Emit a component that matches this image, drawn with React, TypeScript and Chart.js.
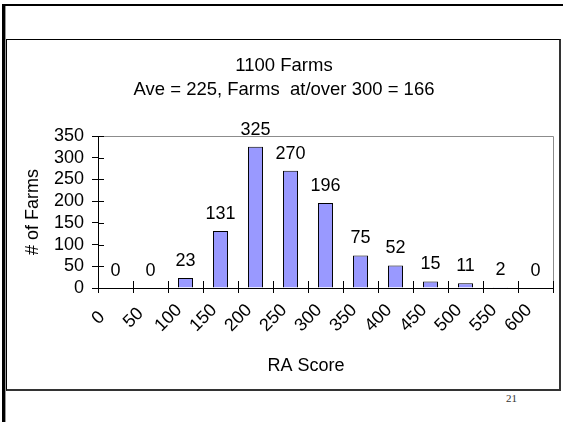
import React, { useEffect, useRef } from 'react';
import { Chart, registerables } from 'chart.js';

Chart.register(...registerables);

const categories = ['0', '50', '100', '150', '200', '250', '300', '350', '400', '450', '500', '550', '600'];
const farmCounts = [0, 0, 23, 131, 325, 270, 196, 75, 52, 15, 11, 2, 0];
const yMin = 0;
const yMax = 350;
const yStep = 50;
const titleLines = ['1100 Farms', 'Ave = 225, Farms  at/over 300 = 166'];
const xTitle = 'RA Score';
const yTitle = '# of Farms';
const pageNumber = '21';

const FONT = "'Liberation Sans', Arial, Helvetica, sans-serif";
const W = 563;
const H = 422;

const decorPlugin = {
  id: 'decor',
  beforeDraw(chart: any) {
    const { ctx, chartArea } = chart;
    ctx.save();
    ctx.strokeStyle = '#8c8c8c';
    ctx.lineWidth = 1;
    ctx.beginPath();
    ctx.moveTo(Math.round(chartArea.left) + 0.5, Math.round(chartArea.top) + 0.5);
    ctx.lineTo(Math.round(chartArea.right) + 0.5, Math.round(chartArea.top) + 0.5);
    ctx.lineTo(Math.round(chartArea.right) + 0.5, Math.round(chartArea.bottom) + 0.5);
    ctx.stroke();
    ctx.restore();
  },
  afterDraw(chart: any) {
    const { ctx, chartArea } = chart;
    const xScale = chart.scales.x;
    const yScale = chart.scales.y;
    ctx.save();
    // inward halves of the crossing tick marks
    ctx.strokeStyle = '#000';
    ctx.lineWidth = 1;
    const n = categories.length;
    const step = (xScale.right - xScale.left) / n;
    ctx.beginPath();
    for (let i = 0; i <= n; i++) {
      const x = Math.round(xScale.left + i * step) + 0.5;
      ctx.moveTo(x, chartArea.bottom);
      ctx.lineTo(x, chartArea.bottom - 7);
    }
    yScale.ticks.forEach((_t: any, i: number) => {
      const y = Math.round(yScale.getPixelForTick(i)) + 0.5;
      ctx.moveTo(chartArea.left, y);
      ctx.lineTo(chartArea.left + 6, y);
    });
    ctx.stroke();

    ctx.fillStyle = '#000';
    ctx.font = `18px ${FONT}`;
    ctx.textAlign = 'center';
    ctx.textBaseline = 'middle';

    // data labels
    const meta = chart.getDatasetMeta(0);
    meta.data.forEach((bar: any, i: number) => {
      ctx.fillText(String(farmCounts[i]), bar.x, bar.y - 17);
    });

    // rotated category labels, centred like the original
    categories.forEach((lab, i) => {
      const cx = xScale.getPixelForValue(i) - 17;
      ctx.save();
      ctx.translate(cx, chartArea.bottom + 30);
      ctx.rotate(-Math.PI / 4);
      ctx.fillText(lab, 0, 0);
      ctx.restore();
    });

    // axis titles
    ctx.fillText(xTitle, 306, 366);
    ctx.save();
    ctx.translate(33, (chartArea.top + chartArea.bottom) / 2);
    ctx.rotate(-Math.PI / 2);
    ctx.fillText(yTitle, 0, 0);
    ctx.restore();

    // chart title
    ctx.font = `18.5px ${FONT}`;
    const titleX = 284;
    ctx.fillText(titleLines[0], titleX, 66);
    ctx.fillText(titleLines[1], titleX, 90);
    ctx.restore();
  },
};

export default function App() {
  const canvasRef = useRef<HTMLCanvasElement | null>(null);

  useEffect(() => {
    if (!canvasRef.current) return;
    const chart = new Chart(canvasRef.current, {
      type: 'bar',
      data: {
        labels: categories,
        datasets: [
          {
            data: farmCounts,
            backgroundColor: '#9999ff',
            borderColor: '#000000',
            borderWidth: 1,
            barPercentage: 0.43,
            categoryPercentage: 1,
          },
        ],
      },
      options: {
        animation: false,
        responsive: false,
        devicePixelRatio: 1,
        layout: { padding: { left: 0, top: 136, right: 10, bottom: 0 } },
        plugins: {
          legend: { display: false },
          title: { display: false },
          tooltip: { enabled: false },
        },
        scales: {
          x: {
            type: 'category',
            offset: true,
            grid: {
              display: true,
              offset: true,
              drawOnChartArea: false,
              drawTicks: true,
              tickLength: 5,
              color: '#000',
            },
            border: { display: true, color: '#000', width: 1 },
            ticks: {
              display: false,
              autoSkip: false,
            },
            afterFit(scale: any) {
              scale.height = 134;
              scale.paddingLeft = 0;
              scale.paddingRight = 0;
            },
          },
          y: {
            min: yMin,
            max: yMax,
            grid: {
              display: true,
              drawOnChartArea: false,
              drawTicks: true,
              tickLength: 6,
              color: '#000',
            },
            border: { display: true, color: '#000', width: 1 },
            ticks: {
              stepSize: yStep,
              autoSkip: false,
              padding: 8,
              color: '#000',
              font: { family: FONT, size: 18 },
            },
            afterFit(scale: any) {
              scale.width = 98;
              scale.paddingTop = 0;
              scale.paddingBottom = 0;
            },
          },
        },
      },
      plugins: [decorPlugin],
    } as any);
    return () => chart.destroy();
  }, []);

  return (
    <div style={{ position: 'absolute', left: 0, top: 0, width: W, height: H, background: '#fff', overflow: 'hidden' }}>
      <div style={{ position: 'absolute', left: 2, top: 4, width: W - 2, height: 2, background: '#000' }} />
      <div style={{ position: 'absolute', left: 2, top: 4, width: 3, height: H - 4, background: '#000' }} />
      <div style={{ position: 'absolute', left: 5, top: 6, width: 1, height: H - 6, background: '#999' }} />
      <div
        style={{
          position: 'absolute',
          left: 6,
          top: 39,
          width: 555,
          height: 352,
          boxSizing: 'border-box',
          borderLeft: '1px solid #000',
          borderTop: '1px solid #000',
          borderRight: '2px solid #333',
          borderBottom: '2px solid #333',
        }}
      />
      <div
        style={{
          position: 'absolute',
          left: 506,
          top: 392,
          fontFamily: "'Liberation Serif', 'Times New Roman', serif",
          fontSize: 11,
          color: '#333',
          lineHeight: '12px',
        }}
      >
        {pageNumber}
      </div>
      <canvas ref={canvasRef} width={W} height={H} style={{ position: 'absolute', left: 0, top: 0 }} />
    </div>
  );
}
